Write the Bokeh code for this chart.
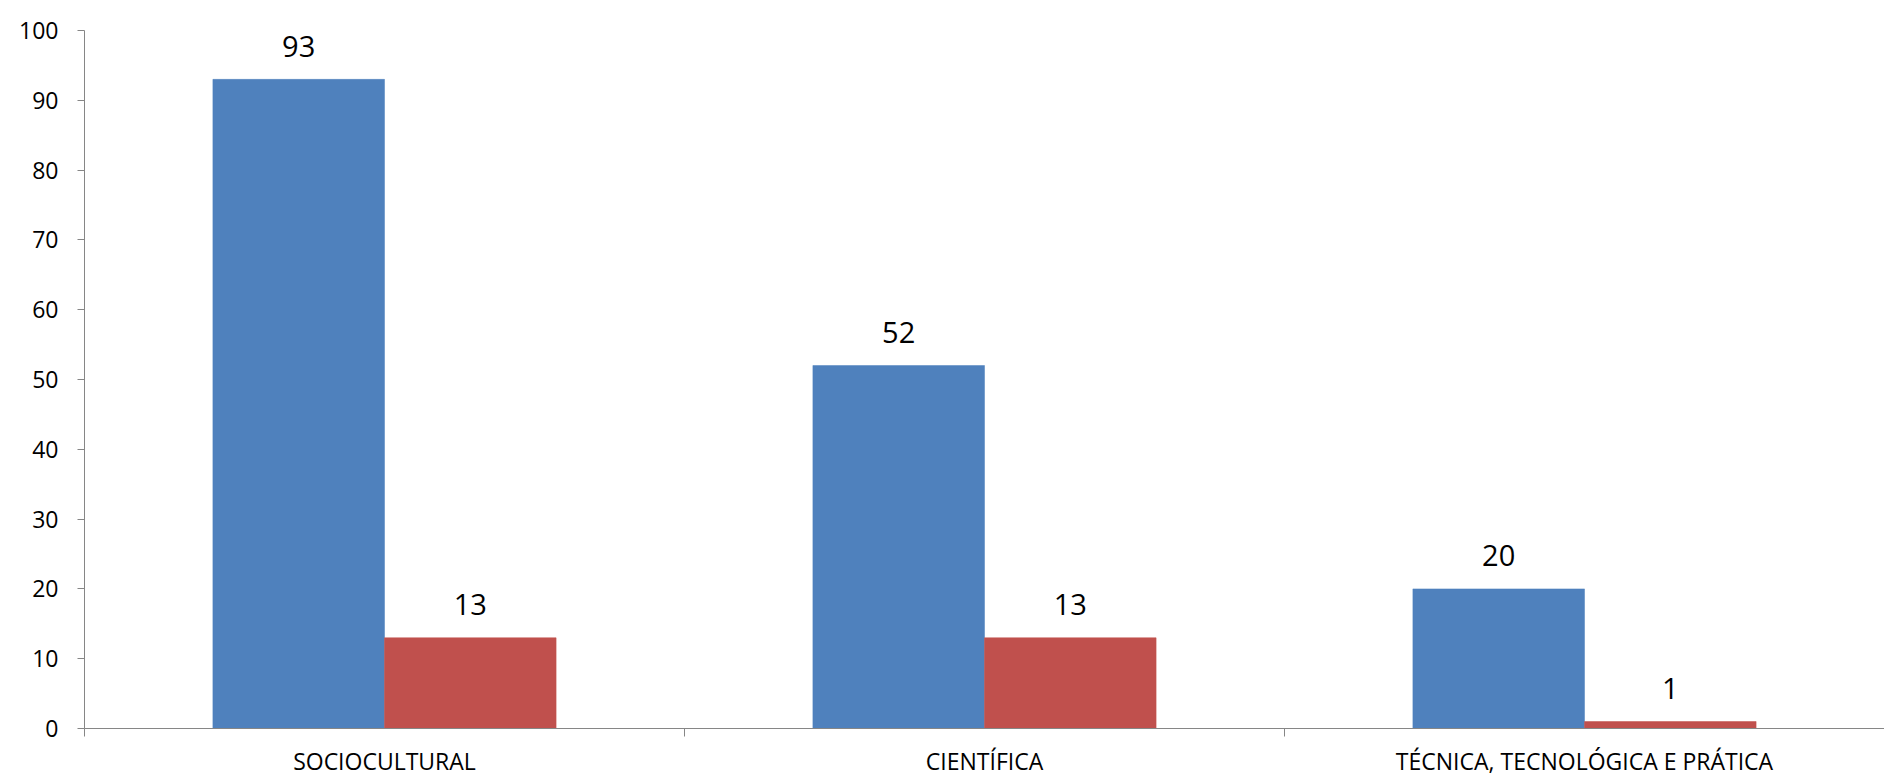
from bokeh.plotting import figure
from bokeh.models import ColumnDataSource, FixedTicker, Range1d
from bokeh.core.properties import value
from bokeh.embed import file_html
from bokeh.resources import INLINE

categories = ["SOCIOCULTURAL", "CIENTÍFICA", "TÉCNICA, TECNOLÓGICA E PRÁTICA"]
series_blue = [93, 52, 20]
series_red = [13, 13, 1]
y_ticks = [0, 10, 20, 30, 40, 50, 60, 70, 80, 90, 100]

BLUE = "#4F81BD"
RED = "#C0504D"
AXIS = "#868686"
FONT = "Open Sans"

bar_w = 0.286
centers = [i + 0.5 for i in range(len(categories))]

src = ColumnDataSource(dict(
    xb=[c - bar_w / 2 for c in centers],
    xr=[c + bar_w / 2 for c in centers],
    blue=series_blue,
    red=series_red,
    lb=[str(v) for v in series_blue],
    lr=[str(v) for v in series_red],
))

p = figure(width=1884, height=779, output_backend="svg", toolbar_location=None,
           x_range=Range1d(0, len(categories)), y_range=Range1d(0, 100),
           min_border_left=84, min_border_right=0, min_border_top=30, min_border_bottom=44)
p.outline_line_color = None
p.xgrid.visible = False
p.ygrid.visible = False
p.background_fill_color = "white"
p.border_fill_color = "white"

p.vbar(x="xb", top="blue", width=bar_w, bottom=0, source=src, fill_color=BLUE, line_color=BLUE, line_width=0.5)
p.vbar(x="xr", top="red", width=bar_w, bottom=0, source=src, fill_color=RED, line_color=RED, line_width=0.5)

p.text(x="xb", y="blue", text="lb", source=src, text_align="center", text_baseline="alphabetic",
       y_offset=-33, text_font=value(FONT), text_font_size="29px", text_color="#000000")
p.text(x="xr", y="red", text="lr", source=src, text_align="center", text_baseline="alphabetic",
       y_offset=-33, text_font=value(FONT), text_font_size="29px", text_color="#000000")

# x axis
p.xaxis.ticker = FixedTicker(ticks=centers, minor_ticks=[0, 1, 2, 3])
p.xaxis.major_label_overrides = {c: categories[i] for i, c in enumerate(centers)}
p.xaxis.major_tick_line_color = None
p.xaxis.minor_tick_out = 8
p.xaxis.minor_tick_in = 0
p.xaxis.minor_tick_line_color = AXIS
p.xaxis.axis_line_color = AXIS
p.xaxis.major_label_text_font = FONT
p.xaxis.major_label_text_font_size = "23px"
p.xaxis.major_label_text_color = "#000000"
p.xaxis.major_label_standoff = 8

# y axis
p.yaxis.ticker = FixedTicker(ticks=y_ticks)
p.yaxis.major_tick_out = 7
p.yaxis.major_tick_in = 0
p.yaxis.minor_tick_line_color = None
p.yaxis.major_tick_line_color = AXIS
p.yaxis.axis_line_color = AXIS
p.yaxis.major_label_text_font = FONT
p.yaxis.major_label_text_font_size = "23px"
p.yaxis.major_label_text_color = "#000000"
p.yaxis.major_label_standoff = 19

open("out.html", "w").write(file_html(p, INLINE))
